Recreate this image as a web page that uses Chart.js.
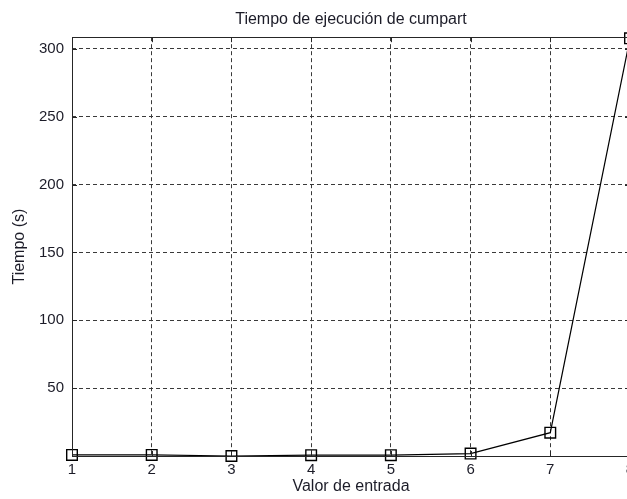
<!DOCTYPE html>
<html>
<head>
<meta charset="utf-8">
<script src="https://cdn.jsdelivr.net/npm/chart.js@4/dist/chart.umd.min.js"></script>
<style>
  html, body { margin: 0; padding: 0; background: #fff; overflow: hidden; }
  #wrap { width: 660px; height: 499px; position: relative; }
</style>
</head>
<body>
<div id="wrap"><canvas id="c"></canvas></div>
<script>
const categories = ['1', '2', '3', '4', '5', '6', '7', '8'];
const tiempos = [0.8, 0.8, 0, 0.6, 0.6, 1.8, 17.2, 307.8];
const yTickValues = [50, 100, 150, 200, 250, 300];
const chartTitle = 'Tiempo de ejecución de cumpart';
const xTitle = 'Valor de entrada';
const yTitle = 'Tiempo (s)';

const FONT = '"Liberation Sans", Arial, sans-serif';
const TEXT = '#1c1c28';

const boxAndTicks = {
  id: 'boxAndTicks',
  afterDatasetsDraw(chart) {
    const { ctx, chartArea: a, scales: { x, y } } = chart;
    ctx.save();
    ctx.strokeStyle = '#262626';
    ctx.lineWidth = 1;
    ctx.beginPath();
    const L = 5;
    x.ticks.forEach((t, i) => {
      const px = Math.round(x.getPixelForTick(i)) + 0.5;
      ctx.moveTo(px, a.bottom); ctx.lineTo(px, a.bottom - L);
      ctx.moveTo(px, a.top); ctx.lineTo(px, a.top + L);
    });
    y.ticks.forEach((t) => {
      const py = Math.round(y.getPixelForValue(t.value)) + 0.5;
      ctx.moveTo(a.left, py); ctx.lineTo(a.left + L, py);
      ctx.moveTo(a.right, py); ctx.lineTo(a.right - L, py);
    });
    ctx.stroke();
    ctx.strokeRect(Math.round(a.left) + 0.5, Math.round(a.top) + 0.5,
                   Math.round(a.right - a.left), Math.round(a.bottom - a.top));
    ctx.restore();
  }
};

new Chart(document.getElementById('c'), {
  type: 'line',
  data: {
    labels: categories,
    datasets: [{
      data: tiempos,
      borderColor: '#000',
      borderWidth: 1.2,
      backgroundColor: 'transparent',
      pointStyle: 'rect',
      pointRadius: 7.5,
      pointHoverRadius: 7.5,
      pointBorderColor: '#000',
      pointBorderWidth: 1.4,
      pointBackgroundColor: 'transparent',
      tension: 0,
      clip: false
    }]
  },
  options: {
    responsive: true,
    maintainAspectRatio: false,
    animation: false,
    events: [],
    layout: { padding: { left: 0, right: 30, top: 0, bottom: 0 } },
    plugins: {
      legend: { display: false },
      tooltip: { enabled: false },
      title: {
        display: true,
        fullSize: false,
        text: chartTitle,
        color: TEXT,
        font: { family: FONT, size: 16, weight: 'normal' },
        padding: { top: 10, bottom: 8 }
      }
    },
    scales: {
      x: {
        type: 'category',
        offset: false,
        grid: {
          drawTicks: false,
          color: (c) => (c.index === 0 || c.index === categories.length - 1) ? 'rgba(0,0,0,0)' : '#3a3a3a',
          lineWidth: 1
        },
        border: { display: false, dash: [4, 3] },
        ticks: {
          color: TEXT,
          font: { family: FONT, size: 15 },
          padding: 5,
          maxRotation: 0,
          autoSkip: false
        },
        title: {
          display: true,
          text: xTitle,
          color: TEXT,
          font: { family: FONT, size: 16 },
          padding: { top: 0, bottom: 3 }
        },
        afterFit: (s) => { s.height = 43; }
      },
      y: {
        min: 0,
        max: 308.6,
        border: { display: false, dash: [4, 3] },
        grid: {
          drawTicks: false,
          color: '#3a3a3a',
          lineWidth: 1
        },
        afterBuildTicks: (s) => { s.ticks = yTickValues.map(v => ({ value: v })); },
        ticks: {
          color: TEXT,
          font: { family: FONT, size: 15 },
          padding: 8
        },
        title: {
          display: true,
          text: yTitle,
          color: TEXT,
          font: { family: FONT, size: 16 },
          padding: { top: 10, bottom: 0 }
        },
        afterFit: (s) => { s.width = 72; }
      }
    }
  },
  plugins: [boxAndTicks]
});
</script>
</body>
</html>
